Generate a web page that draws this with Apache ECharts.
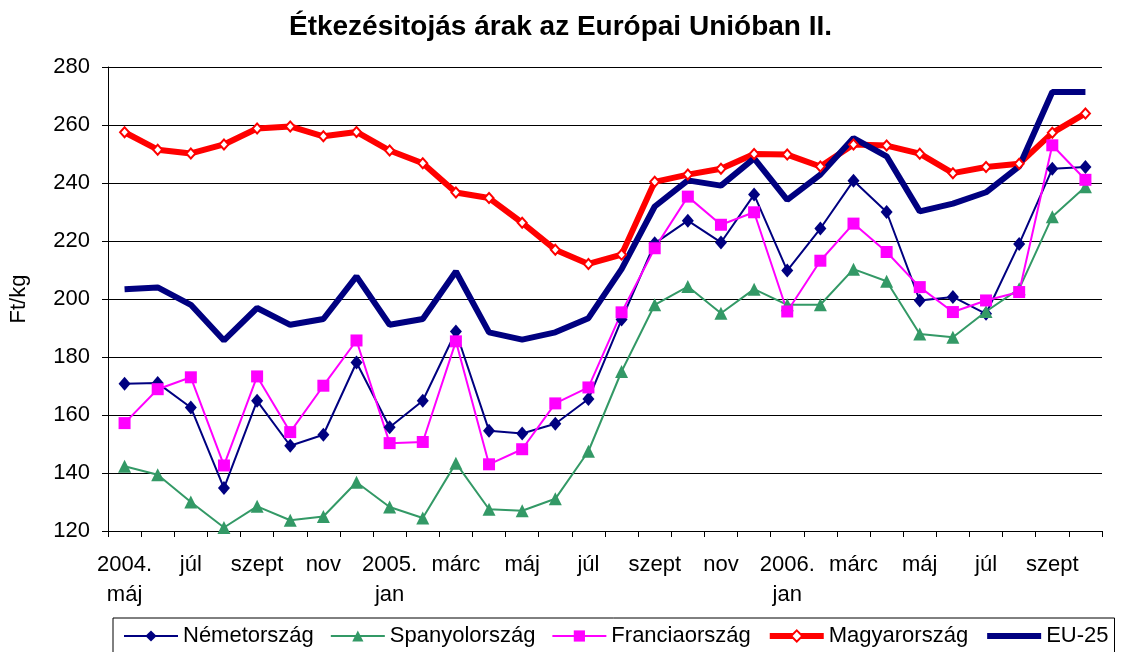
<!DOCTYPE html>
<html>
<head>
<meta charset="utf-8">
<script src="https://cdn.jsdelivr.net/npm/echarts@6/dist/echarts.min.js"></script>
<style>
  html, body { margin: 0; padding: 0; background: #fff; }
  #chart { width: 1121px; height: 652px; }
</style>
</head>
<body>
<div id="chart"></div>
<script>
// months May 2004 .. Oct 2006
const months = [
  '2004.\nmáj', 'jún', 'júl', 'aug', 'szept', 'okt', 'nov', 'dec',
  '2005.\njan', 'febr', 'márc', 'ápr', 'máj', 'jún', 'júl', 'aug', 'szept', 'okt', 'nov', 'dec',
  '2006.\njan', 'febr', 'márc', 'ápr', 'máj', 'jún', 'júl', 'aug', 'szept', 'okt'
]

const nemetorszag = [
  170.8, 171.0, 162.6, 134.8, 164.9, 149.4, 153.2, 178.1, 155.8, 164.9,
  188.8, 154.6, 153.6, 157.0, 165.5, 192.9, 219.2, 227.0, 219.5, 236.0,
  209.8, 224.3, 240.8, 230.0, 199.5, 200.7, 194.9, 219.0, 244.9, 245.5
]
const spanyolorszag = [
  142.3, 139.4, 130.0, 121.2, 128.5, 123.7, 125.0, 136.8, 128.3, 124.5,
  143.4, 127.5, 127.0, 131.1, 147.5, 175.0, 198.0, 204.3, 195.1, 203.4,
  198.0, 198.0, 210.3, 206.1, 187.9, 186.8, 195.7, 203.5, 228.4, 238.7
]
const franciaorszag = [
  157.2, 168.9, 173.0, 142.6, 173.3, 154.1, 170.1, 185.7, 150.3, 150.7,
  185.4, 143.0, 148.2, 164.0, 169.5, 195.4, 217.5, 235.3, 225.6, 229.9,
  195.7, 213.2, 226.0, 216.2, 204.1, 195.5, 199.5, 202.4, 253.0, 241.1
]
const magyarorszag = [
  257.5, 251.5, 250.2, 253.3, 258.8, 259.5, 256.1, 257.6, 251.2, 246.8,
  236.7, 234.8, 226.3, 217.0, 212.1, 215.3, 240.4, 242.9, 244.9, 250.0,
  249.8, 245.7, 253.3, 252.9, 250.1, 243.4, 245.5, 246.6, 257.3, 264.0
]
const eu25 = [
  203.4, 204.0, 198.0, 185.7, 196.9, 191.1, 193.1, 207.8, 191.1, 193.1,
  209.5, 188.5, 186.0, 188.5, 193.4, 210.3, 231.9, 240.9, 239.1, 248.5,
  234.2, 242.9, 255.5, 249.2, 230.2, 232.9, 236.8, 245.7, 271.4, 271.4
]

const FONT = 'Liberation Sans, Arial, sans-serif'

const chart = echarts.init(document.getElementById('chart'))

const thinLine = (name, data, color, symbol, size) => ({
  name: name,
  type: 'line',
  data: data,
  symbol: symbol,
  symbolSize: size,
  showAllSymbol: true,
  lineStyle: { color: color, width: 2 },
  itemStyle: { color: color, borderWidth: 0 },
  emphasis: { disabled: true },
})

chart.setOption({
  animation: false,
  title: {
    text: 'Étkezésitojás árak az Európai Unióban II.',
    left: 'center',
    top: 8,
    textStyle: { fontFamily: FONT, fontSize: 28, fontWeight: 'bold', color: '#000' },
  },
  grid: { left: 108, right: 19, top: 67, bottom: 121 },
  legend: {
    left: 113,
    top: 618,
    padding: [7, 6, 12, 10],
    itemGap: 16,
    itemWidth: 54,
    itemHeight: 14,
    borderColor: '#000',
    borderWidth: 1,
    textStyle: { fontFamily: FONT, fontSize: 22, color: '#000' },
    data: [
      'Németország',
      'Spanyolország',
      'Franciaország',
      { name: 'Magyarország', lineStyle: { width: 6 } },
      { name: 'EU-25', lineStyle: { width: 6 }, itemStyle: { opacity: 0 } },
    ],
  },
  xAxis: {
    type: 'category',
    data: months,
    boundaryGap: true,
    axisLine: { lineStyle: { color: '#000', width: 1 } },
    axisTick: { show: true, interval: 0, length: 6, lineStyle: { color: '#000' } },
    axisLabel: {
      interval: 1,
      color: '#000',
      fontFamily: FONT,
      fontSize: 22,
      lineHeight: 30,
      margin: 19,
    },
  },
  yAxis: {
    type: 'value',
    name: 'Ft/kg',
    nameLocation: 'middle',
    nameGap: 78,
    nameRotate: 90,
    nameTextStyle: { fontFamily: FONT, fontSize: 22, color: '#000' },
    min: 120,
    max: 280,
    interval: 20,
    axisLine: { show: true, lineStyle: { color: '#000', width: 1 } },
    axisTick: { show: true, length: 6, lineStyle: { color: '#000' } },
    axisLabel: { color: '#000', fontFamily: FONT, fontSize: 22, margin: 18 },
    splitLine: { lineStyle: { color: '#000', width: 1 } },
  },
  series: [
    thinLine('Németország', nemetorszag, '#000080', 'diamond', [12, 14]),
    thinLine('Spanyolország', spanyolorszag, '#339966', 'triangle', 13),
    thinLine('Franciaország', franciaorszag, '#FF00FF', 'rect', 12),
    {
      name: 'Magyarország',
      type: 'line',
      data: magyarorszag,
      symbol: 'diamond',
      symbolSize: [9, 10],
      showAllSymbol: true,
      lineStyle: { color: '#FF0000', width: 6 },
      itemStyle: { color: '#FFFFFF', borderColor: '#FF0000', borderWidth: 2 },
      emphasis: { disabled: true },
    },
    {
      name: 'EU-25',
      type: 'line',
      data: eu25,
      symbol: 'none',
      lineStyle: { color: '#000080', width: 6 },
      itemStyle: { color: '#000080' },
      emphasis: { disabled: true },
    },
  ],
})
</script>
</body>
</html>
